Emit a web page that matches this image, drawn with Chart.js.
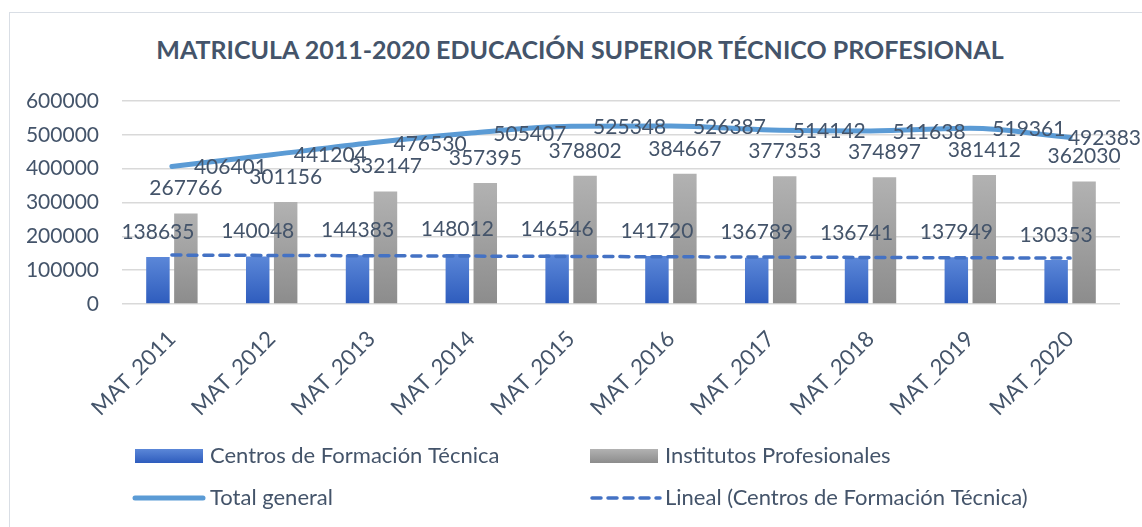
<!DOCTYPE html>
<html>
<head>
<meta charset="utf-8">
<script src="https://cdn.jsdelivr.net/npm/chart.js@4"></script>
<style>
  body { margin: 0; background: #fff; overflow: hidden; }
  #wrap { position: relative; width: 1142px; height: 527px; }
  #frame { position: absolute; left: 9px; top: 12px; width: 1200px; height: 600px; border: 1px solid #D9DEE5; }
  #title { position: absolute; left: 0; width: 1160px; top: 34px; text-align: center;
           font: bold 25px Lato, sans-serif; color: #44546A; }
  canvas { position: absolute; left: 0; top: 0; }
</style>
</head>
<body>
<div id="wrap">
  <div id="frame"></div>
  <div id="title">MATRICULA 2011-2020 EDUCACIÓN SUPERIOR TÉCNICO PROFESIONAL</div>
  <canvas id="graphCanvas" width="1142" height="527"></canvas>
</div>
<script>
const categories = ['MAT_2011', 'MAT_2012', 'MAT_2013', 'MAT_2014', 'MAT_2015',
                    'MAT_2016', 'MAT_2017', 'MAT_2018', 'MAT_2019', 'MAT_2020'];
const cftValues = [138635, 140048, 144383, 148012, 146546, 141720, 136789, 136741, 137949, 130353];
const ipValues = [267766, 301156, 332147, 357395, 378802, 384667, 377353, 374897, 381412, 362030];
const totalValues = [406401, 441204, 476530, 505407, 525348, 526387, 514142, 511638, 519361, 492383];
// trendline: first and last category only
const trendValues = [144600, null, null, null, null, null, null, null, null, 135600];

const textColor = '#44546A';
const font = 'Lato, sans-serif';

function barGradient(c, top, bottom) {
  const chart = c.chart;
  if (!chart.chartArea || c.raw == null) return top;
  const y = chart.scales.y;
  const g = chart.ctx.createLinearGradient(0, y.getPixelForValue(c.raw), 0, y.getPixelForValue(0));
  g.addColorStop(0, top);
  g.addColorStop(1, bottom);
  return g;
}

const labelsPlugin = {
  id: 'valueLabels',
  afterDatasetsDraw(chart) {
    const ctx = chart.ctx;
    ctx.save();
    ctx.font = '21px ' + font;
    ctx.fillStyle = textColor;
    ctx.textBaseline = 'middle';
    [0, 1].forEach(di => {
      ctx.textAlign = 'center';
      chart.getDatasetMeta(di).data.forEach((bar, i) => {
        ctx.fillText(chart.data.datasets[di].data[i], bar.x, bar.y - 25);
      });
    });
    ctx.textAlign = 'left';
    chart.getDatasetMeta(2).data.forEach((pt, i) => {
      const txt = String(totalValues[i]);
      const w = ctx.measureText(txt).width;
      const x = Math.min(pt.x + 22, chart.width - w - 1);
      ctx.fillText(txt, x, pt.y + 1);
    });
    ctx.restore();
  }
};

const legendPlugin = {
  id: 'customLegend',
  afterDraw(chart) {
    const ctx = chart.ctx;
    const ds = chart.data.datasets;
    const items = [
      { i: 0, x: 135, y: 456 }, { i: 1, x: 590, y: 456 },
      { i: 2, x: 133, y: 498 }, { i: 3, x: 590, y: 498 }
    ];
    ctx.save();
    items.forEach(it => {
      const d = ds[it.i];
      if (d.type === 'bar') {
        const g = ctx.createLinearGradient(0, it.y - 7, 0, it.y + 7);
        g.addColorStop(0, d.legendTop);
        g.addColorStop(1, d.legendBottom);
        ctx.fillStyle = g;
        ctx.fillRect(it.x, it.y - 7, 68, 14);
      } else {
        ctx.strokeStyle = d.borderColor;
        ctx.lineWidth = d.borderWidth;
        ctx.lineCap = 'round';
        ctx.setLineDash(d.borderDash || []);
        ctx.beginPath();
        ctx.moveTo(it.x + 2, it.y);
        ctx.lineTo(it.x + 70, it.y);
        ctx.stroke();
        ctx.setLineDash([]);
      }
      ctx.font = '22px ' + font;
      ctx.fillStyle = textColor;
      ctx.textBaseline = 'middle';
      ctx.textAlign = 'left';
      ctx.fillText(d.label, it.x + 75 + (it.i === 2 ? 2 : 0), it.y);
    });
    ctx.restore();
  }
};

const chart = new Chart(document.getElementById('graphCanvas').getContext('2d'), {
  data: {
    labels: categories,
    datasets: [
      {
        type: 'bar',
        label: 'Centros de Formación Técnica',
        data: cftValues,
        backgroundColor: c => barGradient(c, '#5B87D8', '#2E5CBD'),
        legendTop: '#5B87D8', legendBottom: '#2E5CBD',
        categoryPercentage: 0.56,
        barPercentage: 0.84,
        order: 2
      },
      {
        type: 'bar',
        label: 'Institutos Profesionales',
        data: ipValues,
        backgroundColor: c => barGradient(c, '#B2B2B2', '#8C8C8C'),
        legendTop: '#B2B2B2', legendBottom: '#8C8C8C',
        categoryPercentage: 0.56,
        barPercentage: 0.84,
        order: 2
      },
      {
        type: 'line',
        label: 'Total general',
        data: totalValues,
        borderColor: '#5B9BD5',
        borderWidth: 5,
        borderCapStyle: 'round',
        cubicInterpolationMode: 'monotone',
        pointRadius: 0,
        fill: false,
        order: 0
      },
      {
        type: 'line',
        label: 'Lineal (Centros de Formación Técnica)',
        data: trendValues,
        borderColor: '#4472C4',
        borderWidth: 3.5,
        borderDash: [9, 7],
        borderCapStyle: 'round',
        spanGaps: true,
        pointRadius: 0,
        fill: false,
        order: 1
      }
    ]
  },
  options: {
    responsive: false,
    animation: false,
    layout: { padding: { top: 101, right: 22, left: 0, bottom: 0 } },
    plugins: {
      legend: { display: false },
      title: { display: false },
      tooltip: { enabled: false }
    },
    scales: {
      x: {
        grid: { display: false },
        border: { display: false },
        ticks: {
          color: textColor,
          font: { family: font, size: 22 },
          maxRotation: 45,
          minRotation: 45,
          padding: 14
        },
        afterFit: s => { s.height = 223; }
      },
      y: {
        min: 0,
        max: 600000,
        grid: { color: '#D9D9D9', lineWidth: 1.5, drawTicks: false },
        border: { display: false },
        ticks: {
          stepSize: 100000,
          color: textColor,
          font: { family: font, size: 21 },
          padding: 23,
          callback: v => String(v)
        },
        afterFit: s => { s.width = 122; }
      }
    }
  },
  plugins: [labelsPlugin, legendPlugin]
});
</script>
</body>
</html>
